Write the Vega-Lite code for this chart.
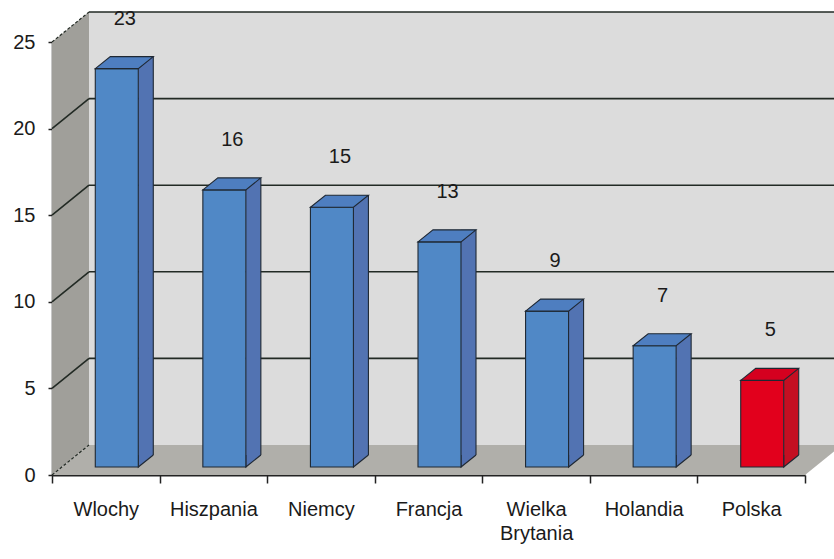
{
  "$schema": "https://vega.github.io/schema/vega-lite/v6.json",
  "width": 753,
  "height": 433,
  "autosize": {"type": "none"},
  "padding": {"left": 52, "top": 42, "right": 29, "bottom": 84},
  "background": "white",
  "config": {
    "view": {"stroke": null},
    "font": "Liberation Sans",
    "axisX": {
      "tickBand": "extent",
      "tickSize": 8,
      "tickColor": "#222222",
      "tickWidth": 1.5,
      "domainColor": "#222222",
      "domainWidth": 2,
      "labelAngle": 0,
      "labelFont": "Liberation Sans",
      "labelFontSize": 20,
      "labelColor": "#1a1a1a",
      "labelPadding": 16,
      "labelLineHeight": 24,
      "labelExpr": "split(datum.label, ' ')",
      "grid": false,
      "zindex": 1
    },
    "axisY": {
      "tickSize": 4,
      "tickColor": "#222222",
      "tickWidth": 1.5,
      "domainColor": "#222222",
      "domainWidth": 1.5,
      "labelFont": "Liberation Sans",
      "labelFontSize": 20,
      "labelColor": "#1a1a1a",
      "labelPadding": 13,
      "grid": false,
      "zindex": 1
    }
  },
  "datasets": {
    "countries": [
      {"country": "Wlochy", "value": 23},
      {"country": "Hiszpania", "value": 16},
      {"country": "Niemcy", "value": 15},
      {"country": "Francja", "value": 13},
      {"country": "Wielka Brytania", "value": 9},
      {"country": "Holandia", "value": 7},
      {"country": "Polska", "value": 5}
    ],
    "levels": [{"v": 5}, {"v": 10}, {"v": 15}, {"v": 20}, {"v": 25}],
    "wallEdges": [{"v": 0}, {"v": 25}],
    "room": [{}]
  },
  "layer": [
    {
      "description": "back wall",
      "data": {"name": "room"},
      "mark": {"type": "point", "shape": "M37,-30 L790,-30 L790,-463 L37,-463 Z", "size": 4, "filled": true, "fill": "#dcdcdc", "opacity": 1, "strokeWidth": 0},
      "encoding": {
        "x": {"datum": "Wlochy", "type": "nominal", "bandPosition": 0, "title": null,
              "scale": {"domain": ["Wlochy", "Hiszpania", "Niemcy", "Francja", "Wielka Brytania", "Holandia", "Polska"], "paddingInner": 0, "paddingOuter": 0}},
        "y": {"datum": 0, "type": "quantitative", "title": null,
              "scale": {"domain": [0, 25], "nice": false},
              "axis": {"values": [0, 5, 10, 15, 20, 25]}}
      }
    },
    {
      "description": "left wall",
      "data": {"name": "room"},
      "mark": {"type": "point", "shape": "M0,0 L0,-433 L37,-463 L37,-30 Z", "size": 4, "filled": true, "fill": "#a09f9a", "opacity": 1, "strokeWidth": 0},
      "encoding": {
        "x": {"datum": "Wlochy", "type": "nominal", "bandPosition": 0, "title": null},
        "y": {"datum": 0, "type": "quantitative", "title": null, "axis": {"values": [0, 5, 10, 15, 20, 25]}}
      }
    },
    {
      "description": "floor",
      "data": {"name": "room"},
      "mark": {"type": "point", "shape": "M0,0 L753,0 L790,-30 L37,-30 Z", "size": 4, "filled": true, "fill": "#b0afaa", "opacity": 1, "strokeWidth": 0},
      "encoding": {
        "x": {"datum": "Wlochy", "type": "nominal", "bandPosition": 0, "title": null},
        "y": {"datum": 0, "type": "quantitative", "title": null, "axis": {"values": [0, 5, 10, 15, 20, 25]}}
      }
    },
    {
      "description": "gridlines on the back wall",
      "data": {"name": "levels"},
      "mark": {"type": "rule", "stroke": "#222a24", "strokeWidth": 1.6, "xOffset": 37, "x2Offset": 37, "yOffset": -30},
      "encoding": {
        "x": {"datum": "Wlochy", "type": "nominal", "bandPosition": 0, "title": null},
        "x2": {"datum": "Polska", "bandPosition": 1},
        "y": {"field": "v", "type": "quantitative", "title": null, "axis": {"values": [0, 5, 10, 15, 20, 25]}}
      }
    },
    {
      "description": "gridlines across the left wall",
      "data": {"name": "levels"},
      "transform": [{"filter": "datum.v < 25"}],
      "mark": {"type": "rule", "stroke": "#222a24", "strokeWidth": 1.6, "x2Offset": 37, "y2Offset": -30},
      "encoding": {
        "x": {"datum": "Wlochy", "type": "nominal", "bandPosition": 0, "title": null},
        "x2": {"datum": "Wlochy", "bandPosition": 0},
        "y": {"field": "v", "type": "quantitative", "title": null, "axis": {"values": [0, 5, 10, 15, 20, 25]}},
        "y2": {"field": "v"}
      }
    },
    {
      "description": "dashed top and bottom edges of the left wall",
      "data": {"name": "wallEdges"},
      "mark": {"type": "rule", "stroke": "#222a24", "strokeWidth": 1.2, "strokeDash": [3, 2], "x2Offset": 37, "y2Offset": -30},
      "encoding": {
        "x": {"datum": "Wlochy", "type": "nominal", "bandPosition": 0, "title": null},
        "x2": {"datum": "Wlochy", "bandPosition": 0},
        "y": {"field": "v", "type": "quantitative", "title": null, "axis": {"values": [0, 5, 10, 15, 20, 25]}},
        "y2": {"field": "v"}
      }
    },
    {
      "description": "side faces of the columns",
      "data": {"name": "countries"},
      "mark": {"type": "bar", "width": 15, "xOffset": 40, "yOffset": -20, "y2Offset": -20, "strokeWidth": 0},
      "encoding": {
        "x": {"field": "country", "type": "nominal", "sort": null, "title": null},
        "y": {"field": "value", "type": "quantitative", "title": null, "axis": {"values": [0, 5, 10, 15, 20, 25]}},
        "y2": {"datum": 0},
        "fill": {"condition": {"test": "datum.country === 'Polska'", "value": "#c40f22"}, "value": "#5273b2"}
      }
    },
    {
      "description": "lower corner of the side faces",
      "data": {"name": "countries"},
      "mark": {"type": "point", "shape": "M47.5,-20 L32.5,-8 L32.5,-20", "size": 4, "filled": true, "opacity": 1, "stroke": "#1f2833", "strokeWidth": 1.1},
      "encoding": {
        "x": {"field": "country", "type": "nominal", "sort": null, "title": null},
        "y": {"datum": 0, "type": "quantitative", "title": null, "axis": {"values": [0, 5, 10, 15, 20, 25]}},
        "fill": {"condition": {"test": "datum.country === 'Polska'", "value": "#c40f22"}, "value": "#5273b2"}
      }
    },
    {
      "description": "back vertical edge of the columns",
      "data": {"name": "countries"},
      "mark": {"type": "rule", "stroke": "#1f2833", "strokeWidth": 1.1, "xOffset": 47.5, "yOffset": -20, "y2Offset": -20},
      "encoding": {
        "x": {"field": "country", "type": "nominal", "sort": null, "title": null},
        "y": {"field": "value", "type": "quantitative", "title": null, "axis": {"values": [0, 5, 10, 15, 20, 25]}},
        "y2": {"datum": 0}
      }
    },
    {
      "description": "front faces of the columns",
      "data": {"name": "countries"},
      "mark": {"type": "bar", "width": 43, "xOffset": 11, "yOffset": -8, "y2Offset": -8, "stroke": "#1f2833", "strokeWidth": 1.1},
      "encoding": {
        "x": {"field": "country", "type": "nominal", "sort": null, "title": null},
        "y": {"field": "value", "type": "quantitative", "title": null, "axis": {"values": [0, 5, 10, 15, 20, 25]}},
        "y2": {"datum": 0},
        "fill": {"condition": {"test": "datum.country === 'Polska'", "value": "#e2001c"}, "value": "#5088c6"}
      }
    },
    {
      "description": "top faces of the columns",
      "data": {"name": "countries"},
      "mark": {"type": "point", "shape": "M-10.5,-8 L32.5,-8 L47.5,-20 L4.5,-20 Z", "size": 4, "filled": true, "opacity": 1, "stroke": "#1f2833", "strokeWidth": 1.1},
      "encoding": {
        "x": {"field": "country", "type": "nominal", "sort": null, "title": null},
        "y": {"field": "value", "type": "quantitative", "title": null, "axis": {"values": [0, 5, 10, 15, 20, 25]}},
        "fill": {"condition": {"test": "datum.country === 'Polska'", "value": "#d5001f"}, "value": "#4e7ec0"}
      }
    },
    {
      "description": "value labels",
      "data": {"name": "countries"},
      "mark": {"type": "text", "font": "Liberation Sans", "fontSize": 20, "color": "#1a1a1a", "baseline": "middle", "align": "center", "dx": 19, "dy": -58},
      "encoding": {
        "x": {"field": "country", "type": "nominal", "sort": null, "title": null},
        "y": {"field": "value", "type": "quantitative", "title": null, "axis": {"values": [0, 5, 10, 15, 20, 25]}},
        "text": {"field": "value", "type": "quantitative"}
      }
    }
  ]
}
